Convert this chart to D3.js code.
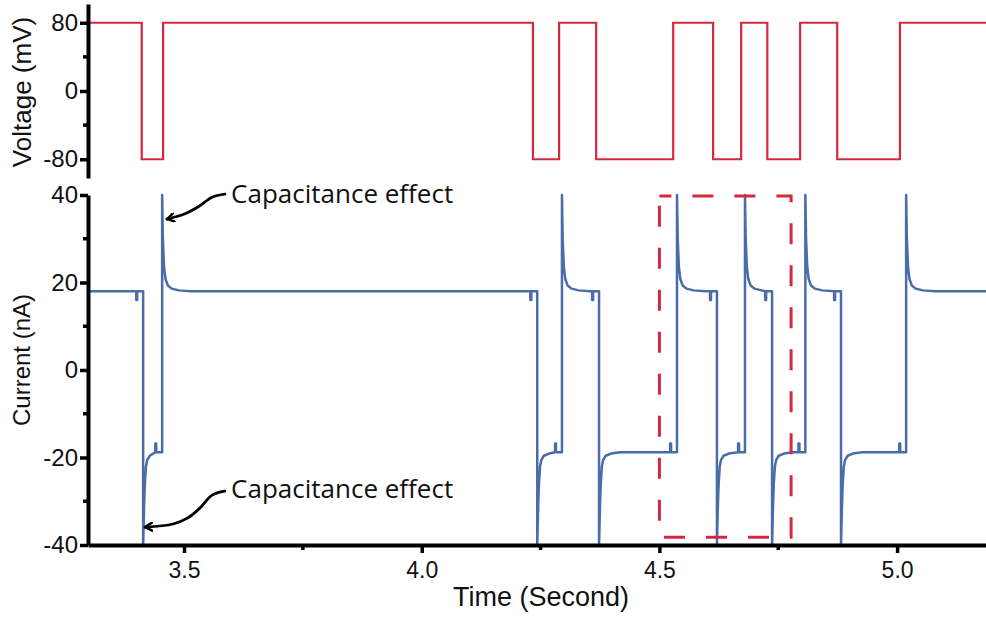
<!DOCTYPE html>
<html>
<head>
<meta charset="utf-8">
<script src="https://cdn.jsdelivr.net/npm/d3@7"></script>
<style>
  html, body { margin: 0; padding: 0; background: #fff; }
  svg { display: block; }
  .axis path, .axis line { stroke: #000; }
  .axis text { font-family: "Liberation Sans", Arial, sans-serif; font-size: 24px; fill: #111; }
  .title { font-family: "Liberation Sans", Arial, sans-serif; fill: #111; }
  .note { font-family: "Open Sans", sans-serif; font-size: 26px; fill: #111; }
</style>
</head>
<body>
<svg id="chart" width="986" height="617"></svg>
<script>
// time axis (s)
const xDomain = [3.298, 5.187];
const xTicks = [3.5, 4.0, 4.5, 5.0];
const xMinor = [3.75, 4.25, 4.75];

// voltage panel (mV)
const vDomain = [-102, 102];
const vTicks = [-80, 0, 80];
const vMinor = [-40, 40];
const vHigh = 80, vLow = -80;
// alternating falling / rising edges of the command voltage
const voltageEdges = [3.411, 3.456, 4.234, 4.289, 4.367, 4.529, 4.613, 4.672, 4.727, 4.796, 4.874, 5.006];

// current panel (nA)
const iDomain = [-40, 40];
const iTicks = [-40, -20, 0, 20, 40];
const iMinor = [-30, -10, 10, 30];
const currentHigh = 18, currentLow = -18.8;
const currentEdges = [3.414, 3.454, 4.243, 4.295, 4.373, 4.537, 4.621, 4.680, 4.737, 4.807, 4.882, 5.019];
// capacitive transients: [seconds after edge, nA]
const riseSpike = [[0, 40], [0.0015, 30], [0.004, 23.5], [0.007, 20.8], [0.012, 19.3], [0.02, 18.6], [0.035, 18.2], [0.06, 18]];
const fallSpike = [[0, -40], [0.002, -31], [0.0036, -26], [0.006, -22], [0.0085, -20.6], [0.014, -19.6], [0.025, -19.1], [0.045, -18.8]];
// small glitch just before each edge: [seconds before edge, nA offset from plateau]
const preFallNotch = [[-0.0145, 0], [-0.0145, -2], [-0.0125, -2], [-0.0125, 0]];
const preRiseBump = [[-0.0145, 0], [-0.0145, 2], [-0.0125, 2], [-0.0125, 0]];

// annotations (data coords)
const notes = [
  { text: "Capacitance effect", at: [3.599, 38.1],
    arrow: [[3.586, 40.2], [3.559, 39.5], [3.530, 37.3], [3.502, 35.7], [3.464, 34.5]] },
  { text: "Capacitance effect", at: [3.599, -29.3],
    arrow: [[3.586, -27.7], [3.559, -28.6], [3.534, -31.5], [3.508, -33.8], [3.477, -35.2], [3.418, -35.9]] }
];
const box = { t: [4.5, 4.777], i: [-38.2, 39.8] };

const RED = "#d5283c", BLUE = "#4a6ca8";

const svg = d3.select("#chart");
const x = d3.scaleLinear().domain(xDomain).range([88, 986]);
const yV = d3.scaleLinear().domain(vDomain).range([178, 4]);
const yI = d3.scaleLinear().domain(iDomain).range([545, 195]);
const plain = d => String(d); // hyphen-minus like the original figure

svg.append("defs").append("marker")
  .attr("id", "head").attr("viewBox", "0 0 10 10")
  .attr("refX", 8).attr("refY", 5)
  .attr("markerWidth", 10).attr("markerHeight", 10)
  .attr("markerUnits", "userSpaceOnUse").attr("orient", "auto")
  .append("path").attr("d", "M1,1 L8,5 L1,9")
  .attr("fill", "none").attr("stroke", "#000").attr("stroke-width", 2.4)
  .attr("stroke-linecap", "round").attr("stroke-linejoin", "round");

// --- voltage trace
const vPts = [[xDomain[0], vHigh]];
voltageEdges.forEach((e, k) => vPts.push([e, k % 2 === 0 ? vLow : vHigh]));
vPts.push([xDomain[1], vHigh]);
svg.append("path").datum(vPts)
  .attr("fill", "none").attr("stroke", RED).attr("stroke-width", 2.2)
  .attr("d", d3.line().x(d => x(d[0])).y(d => yV(d[1])).curve(d3.curveStepAfter));

// --- current trace
const iPts = [[xDomain[0], currentHigh]];
let level = currentHigh;
currentEdges.forEach((e, k) => {
  const rising = k % 2 === 1;
  (rising ? preRiseBump : preFallNotch).forEach(([dt, dv]) => iPts.push([e + dt, level + dv]));
  iPts.push([e, level]);
  const stop = k + 1 < currentEdges.length ? currentEdges[k + 1] + preFallNotch[0][0] - 0.001 : xDomain[1];
  (rising ? riseSpike : fallSpike).forEach(([dt, v]) => { if (e + dt < stop) iPts.push([e + dt, v]); });
  level = rising ? currentHigh : currentLow;
});
iPts.push([xDomain[1], level]);
svg.append("path").datum(iPts)
  .attr("fill", "none").attr("stroke", BLUE).attr("stroke-width", 2.5)
  .attr("stroke-linejoin", "round")
  .attr("d", d3.line().x(d => x(d[0])).y(d => yI(d[1])));

// --- dashed highlight box
svg.append("rect")
  .attr("x", x(box.t[0])).attr("y", yI(box.i[1]))
  .attr("width", x(box.t[1]) - x(box.t[0])).attr("height", yI(box.i[0]) - yI(box.i[1]))
  .attr("fill", "none").attr("stroke", RED).attr("stroke-width", 3)
  .attr("stroke-dasharray", "21,21").attr("stroke-dashoffset", 9);

// --- axes
function styleAxis(g) {
  g.attr("class", "axis");
  g.select(".domain").attr("stroke-width", 4);
  g.selectAll(".tick line").attr("stroke-width", 3.5);
}
function minorTicks(g, vals, pos, horiz) {
  g.selectAll(null).data(vals).join("line")
    .attr("stroke", "#000").attr("stroke-width", 3.5)
    .attr(horiz ? "x1" : "y1", d => pos(d)).attr(horiz ? "x2" : "y2", d => pos(d))
    .attr(horiz ? "y1" : "x1", 0).attr(horiz ? "y2" : "x2", horiz ? 5 : -5);
}

const gV = svg.append("g").attr("transform", "translate(88,0)")
  .call(d3.axisLeft(yV).tickValues(vTicks).tickFormat(plain).tickSize(8).tickSizeOuter(0).tickPadding(2))
  .call(styleAxis);
minorTicks(gV, vMinor, yV, false);

const gI = svg.append("g").attr("transform", "translate(88,0)")
  .call(d3.axisLeft(yI).tickValues(iTicks).tickFormat(plain).tickSize(8).tickSizeOuter(0).tickPadding(2))
  .call(styleAxis);
minorTicks(gI, iMinor, yI, false);

const gX = svg.append("g").attr("transform", "translate(0,545)")
  .call(d3.axisBottom(x).tickValues(xTicks).tickFormat(d3.format(".1f")).tickSize(8).tickSizeOuter(0).tickPadding(9))
  .call(styleAxis);
gX.selectAll("text").style("font-size", "23px");
minorTicks(gX, xMinor, x, true);

// --- axis titles
svg.append("text").attr("class", "title").style("font-size", "26px")
  .attr("transform", "translate(31,92) rotate(-90)").attr("text-anchor", "middle")
  .text("Voltage (mV)");
svg.append("text").attr("class", "title").style("font-size", "24px")
  .attr("transform", "translate(30,360) rotate(-90)").attr("text-anchor", "middle")
  .text("Current (nA)");
svg.append("text").attr("class", "title").style("font-size", "27px")
  .attr("x", 541).attr("y", 606).attr("text-anchor", "middle")
  .text("Time (Second)");

// --- annotations
const arrowLine = d3.line().x(d => x(d[0])).y(d => yI(d[1])).curve(d3.curveCatmullRom);
notes.forEach(n => {
  svg.append("path").datum(n.arrow)
    .attr("fill", "none").attr("stroke", "#000").attr("stroke-width", 2.8)
    .attr("stroke-linecap", "round")
    .attr("marker-end", "url(#head)")
    .attr("d", arrowLine);
  svg.append("text").attr("class", "note")
    .attr("x", x(n.at[0])).attr("y", yI(n.at[1]))
    .text(n.text);
});
</script>
</body>
</html>
